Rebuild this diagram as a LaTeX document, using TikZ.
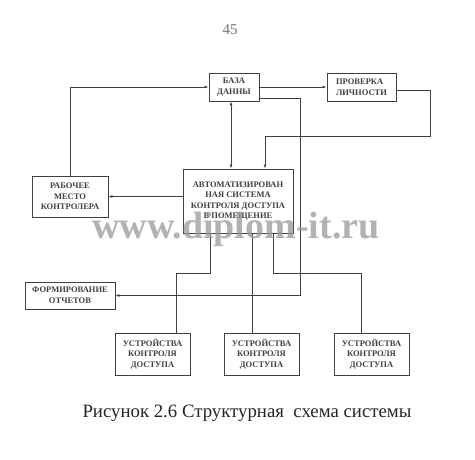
\documentclass[tikz,border=0pt]{standalone}
\usepackage{fontspec}
\setmainfont{Liberation Serif}
\usetikzlibrary{arrows.meta}
\tikzset{
  blok/.style={draw=black!75,line width=0.9pt,align=center,inner sep=1pt,
    font=\fontsize{8.5}{10.6}\selectfont\bfseries,text=black!75},
  svyaz/.style={draw=black!75,line width=0.9pt},
  strelka/.style={svyaz,-{Latex[length=4pt,width=3pt]}}
}
\begin{document}
\begin{tikzpicture}[x=1pt,y=-1pt]
  \useasboundingbox[fill=white] (0,0) rectangle (475,460);
  \node[text=black!55,font=\fontsize{15}{15}\selectfont] (nomer) at (230,30) {45};
  % bloki
  \node[blok,minimum width=50pt,minimum height=28pt] (baza) at (234,87) {БАЗА\\ДАННЫ};
  \node[blok,minimum width=69pt,minimum height=28pt,align=left] (prov) at (361.5,87) {ПРОВЕРКА\\ЛИЧНОСТИ};
  \node[blok,minimum width=110pt,minimum height=64pt] (asu) at (238,201) {АВТОМАТИЗИРОВАН\\НАЯ СИСТЕМА\\КОНТРОЛЯ ДОСТУПА\\В ПОМЕЩЕНИЕ};
  \node[blok,minimum width=76pt,minimum height=41pt] (rab) at (70,196.5) {РАБОЧЕЕ\\МЕСТО\\КОНТРОЛЕРА};
  \node[blok,minimum width=90pt,minimum height=27pt] (form) at (70,295.5) {ФОРМИРОВАНИЕ\\ОТЧЕТОВ};
  \foreach \n/\X in {1/152.5,2/261.5,3/371.5}
    \node[blok,minimum width=75pt,minimum height=42pt] (ust\n) at (\X,354) {УСТРОЙСТВА\\КОНТРОЛЯ\\ДОСТУПА};
  % tochki povorota
  \coordinate (r1) at (300,0);
  \coordinate (r2) at (430,136);
  \coordinate (j1) at (210,273);
  \coordinate (j3) at (273,273);
  % svyazi
  \draw[strelka] (rab.north) |- (baza.west);
  \draw[strelka] (baza.east) -- (prov.west);
  \draw[strelka] ([yshift=-11pt]baza.east) -| (form.east -| r1) -- (form.east);
  \draw[strelka] ([yshift=-3pt]prov.east) -| (r2) -| ([xshift=27pt]asu.north);
  \draw[svyaz,{Latex[length=4pt,width=3pt]}-{Latex[length=4pt,width=3pt]}] ([xshift=-3pt]baza.south) -- ([xshift=-3pt]baza.south |- asu.north);
  \draw[strelka] (asu.west |- rab.east) -- (rab.east);
  \draw[svyaz] (asu.south -| j1) -- (j1) -| ([xshift=23.5pt]ust1.north);
  \draw[svyaz] ([xshift=-9.5pt]ust2.north |- asu.south) -- ([xshift=-9.5pt]ust2.north);
  \draw[svyaz] (asu.south -| j3) -- (j3) -| ([xshift=-10.5pt]ust3.north);
  % vodyanoi znak
  \node[text=black!40,opacity=0.75,font=\fontsize{38}{38}\selectfont\bfseries] (znak) at (236,229) {www.diplom-it.ru};
  \node[font=\fontsize{18.8}{18.8}\selectfont,text=black!85] (podpis) at (247,413) {Рисунок 2.6 Структурная\ \ схема системы};
\end{tikzpicture}
\end{document}
